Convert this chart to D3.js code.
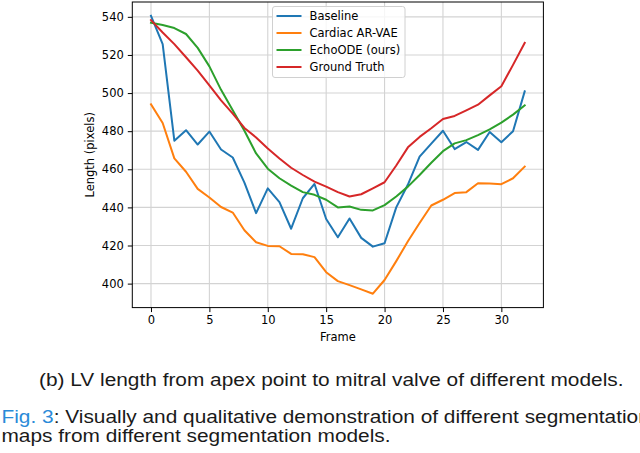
<!DOCTYPE html>
<html>
<head>
<meta charset="utf-8">
<script src="https://cdn.jsdelivr.net/npm/d3@7"></script>
<style>
  body { margin: 0; background: #fff; }
  svg { display: block; }
</style>
</head>
<body>
<svg id="chart" width="640" height="453"></svg>
<script>
// values
const frames = [0,1,2,3,4,5,6,7,8,9,10,11,12,13,14,15,16,17,18,19,20,21,22,23,24,25,26,27,28,29,30,31,32];
const baseline = [540.5,525.7,475,480.5,473,479.8,470.4,466.2,453,437,450,442.8,428.8,444.8,452.3,433.9,424.3,434.2,424,419.4,421.2,440,452,466.6,473.5,480.2,470.6,474.3,470.2,479.6,474.2,480,500.9];
const arVae = [494.1,484.3,465.7,458.7,449.7,445.2,440.2,437.3,428,421.7,419.8,419.6,415.6,415.4,413.9,406,401.3,399.2,397,394.7,401.9,411.8,422.2,431.8,441,444,447.5,448,452.7,452.5,452.2,455.3,461.4];
const echoOde = [536.9,535.7,534.1,531,523.7,514,501.7,491,480.2,468.3,460.3,455.3,451.4,448,446.6,444,440,440.5,438.7,438.4,441.2,445.7,450.9,457,463.4,469.5,473.6,475.3,477.9,480.9,484.5,488.7,493.5];
const groundTruth = [538.3,531.8,525.7,518.8,511.8,504,496.2,489.2,481.7,476.7,470.9,465.7,460.8,457,453.5,450.9,448,445.7,446.9,450,453.2,462,471.5,477,481.5,486.4,488,490.9,493.9,498.8,503.6,514.8,526.3];

const seriesNames = ["Baseline", "Cardiac AR-VAE", "EchoODE (ours)", "Ground Truth"];
const seriesValues = [baseline, arVae, echoOde, groundTruth];
const colors = ["#1f77b4", "#ff7f0e", "#2ca02c", "#d62728"];

const xTicks = [0, 5, 10, 15, 20, 25, 30];
const yTicks = [400, 420, 440, 460, 480, 500, 520, 540];

const xLabel = "Frame";
const yLabel = "Length (pixels)";
const subCaption = "(b) LV length from apex point to mitral valve of different models.";
const figCaption1 = ": Visually and qualitative demonstration of different segmentation";
const figCaption2 = "maps from different segmentation models.";

const svg = d3.select("#chart");
const margin = {top: 2, right: 640 - 543.4, bottom: 453 - 307.6, left: 132.3};
const plotW = 640 - margin.left - margin.right;
const plotH = 453 - margin.top - margin.bottom;
const tickFont = "DejaVu Sans";

// matplotlib style 5% padding
const xExt = d3.extent(frames);
const xPad = (xExt[1] - xExt[0]) * 0.05;
const allY = seriesValues.flat();
const yExt = d3.extent(allY);
const yPad = (yExt[1] - yExt[0]) * 0.05;

const x = d3.scaleLinear()
  .domain([xExt[0] - xPad, xExt[1] + xPad])
  .range([margin.left, margin.left + plotW]);
const y = d3.scaleLinear()
  .domain([yExt[0] - yPad, yExt[1] + yPad])
  .range([margin.top + plotH, margin.top]);

// grid
const grid = svg.append("g").attr("stroke", "#d3d3d3").attr("stroke-width", 1.1);
grid.selectAll("line.gx").data(xTicks).join("line")
  .attr("x1", d => x(d)).attr("x2", d => x(d))
  .attr("y1", margin.top).attr("y2", margin.top + plotH);
grid.selectAll("line.gy").data(yTicks).join("line")
  .attr("y1", d => y(d)).attr("y2", d => y(d))
  .attr("x1", margin.left).attr("x2", margin.left + plotW);

// lines
const line = d3.line()
  .x((d, i) => x(frames[i]))
  .y(d => y(d));

svg.append("g")
  .attr("fill", "none")
  .attr("stroke-width", 2)
  .attr("stroke-linejoin", "round")
  .attr("stroke-linecap", "square")
  .selectAll("path")
  .data(seriesValues)
  .join("path")
  .attr("stroke", (d, i) => colors[i])
  .attr("d", d => line(d));

// spines
svg.append("rect")
  .attr("x", margin.left).attr("y", margin.top)
  .attr("width", plotW).attr("height", plotH)
  .attr("fill", "none").attr("stroke", "#000").attr("stroke-width", 1);

// axes
const xAxis = svg.append("g")
  .attr("transform", `translate(0,${margin.top + plotH})`)
  .call(d3.axisBottom(x).tickValues(xTicks).tickSize(4.5).tickPadding(4));
const yAxis = svg.append("g")
  .attr("transform", `translate(${margin.left},0)`)
  .call(d3.axisLeft(y).tickValues(yTicks).tickSize(4.5).tickPadding(4));
[xAxis, yAxis].forEach(a => {
  a.select(".domain").remove();
  a.selectAll("text").attr("font-family", tickFont).attr("font-size", 11.5).attr("fill", "#000");
  a.selectAll("line").attr("stroke", "#000");
});

svg.append("text")
  .attr("x", margin.left + plotW / 2).attr("y", 341)
  .attr("text-anchor", "middle")
  .attr("font-family", tickFont).attr("font-size", 11.5)
  .text(xLabel);
svg.append("text")
  .attr("transform", `translate(94,${margin.top + plotH / 2}) rotate(-90)`)
  .attr("text-anchor", "middle")
  .attr("font-family", tickFont).attr("font-size", 11.5)
  .text(yLabel);

// legend
const legend = svg.append("g").attr("transform", "translate(272.5,6.5)");
legend.append("rect")
  .attr("width", 132.5).attr("height", 71)
  .attr("rx", 2.5)
  .attr("fill", "#fff").attr("fill-opacity", 0.8)
  .attr("stroke", "#d0d0d0").attr("stroke-width", 1);
seriesNames.forEach((name, i) => {
  const row = legend.append("g").attr("transform", `translate(0,${9.5 + i * 17})`);
  row.append("line")
    .attr("x1", 4).attr("x2", 29)
    .attr("stroke", colors[i]).attr("stroke-width", 2);
  row.append("text")
    .attr("x", 37).attr("dy", "0.36em")
    .attr("font-family", tickFont).attr("font-size", 11.5)
    .text(name);
});

// captions (the scanned text is a bit wider than the font, so stretch it horizontally)
const capFont = "Liberation Sans";
const capSize = 18.5;
const subG = svg.append("g");
const subText = subG.append("text")
  .attr("font-family", capFont).attr("font-size", capSize)
  .attr("fill", "#1a1a1a")
  .text(subCaption);
const stretch = 585 / subText.node().getComputedTextLength();
subG.attr("transform", `translate(39,386) scale(${stretch},1)`);

const capG = svg.append("g").attr("transform", `translate(1.5,423) scale(${stretch},1)`);
const cap = capG.append("text")
  .attr("font-family", capFont).attr("font-size", capSize)
  .attr("fill", "#1a1a1a");
cap.append("tspan").attr("fill", "#2a8ad8").text("Fig. 3");
cap.append("tspan").text(figCaption1);

svg.append("g").attr("transform", `translate(1.5,442) scale(${stretch},1)`)
  .append("text")
  .attr("font-family", capFont).attr("font-size", capSize)
  .attr("fill", "#1a1a1a")
  .text(figCaption2);
</script>
</body>
</html>
